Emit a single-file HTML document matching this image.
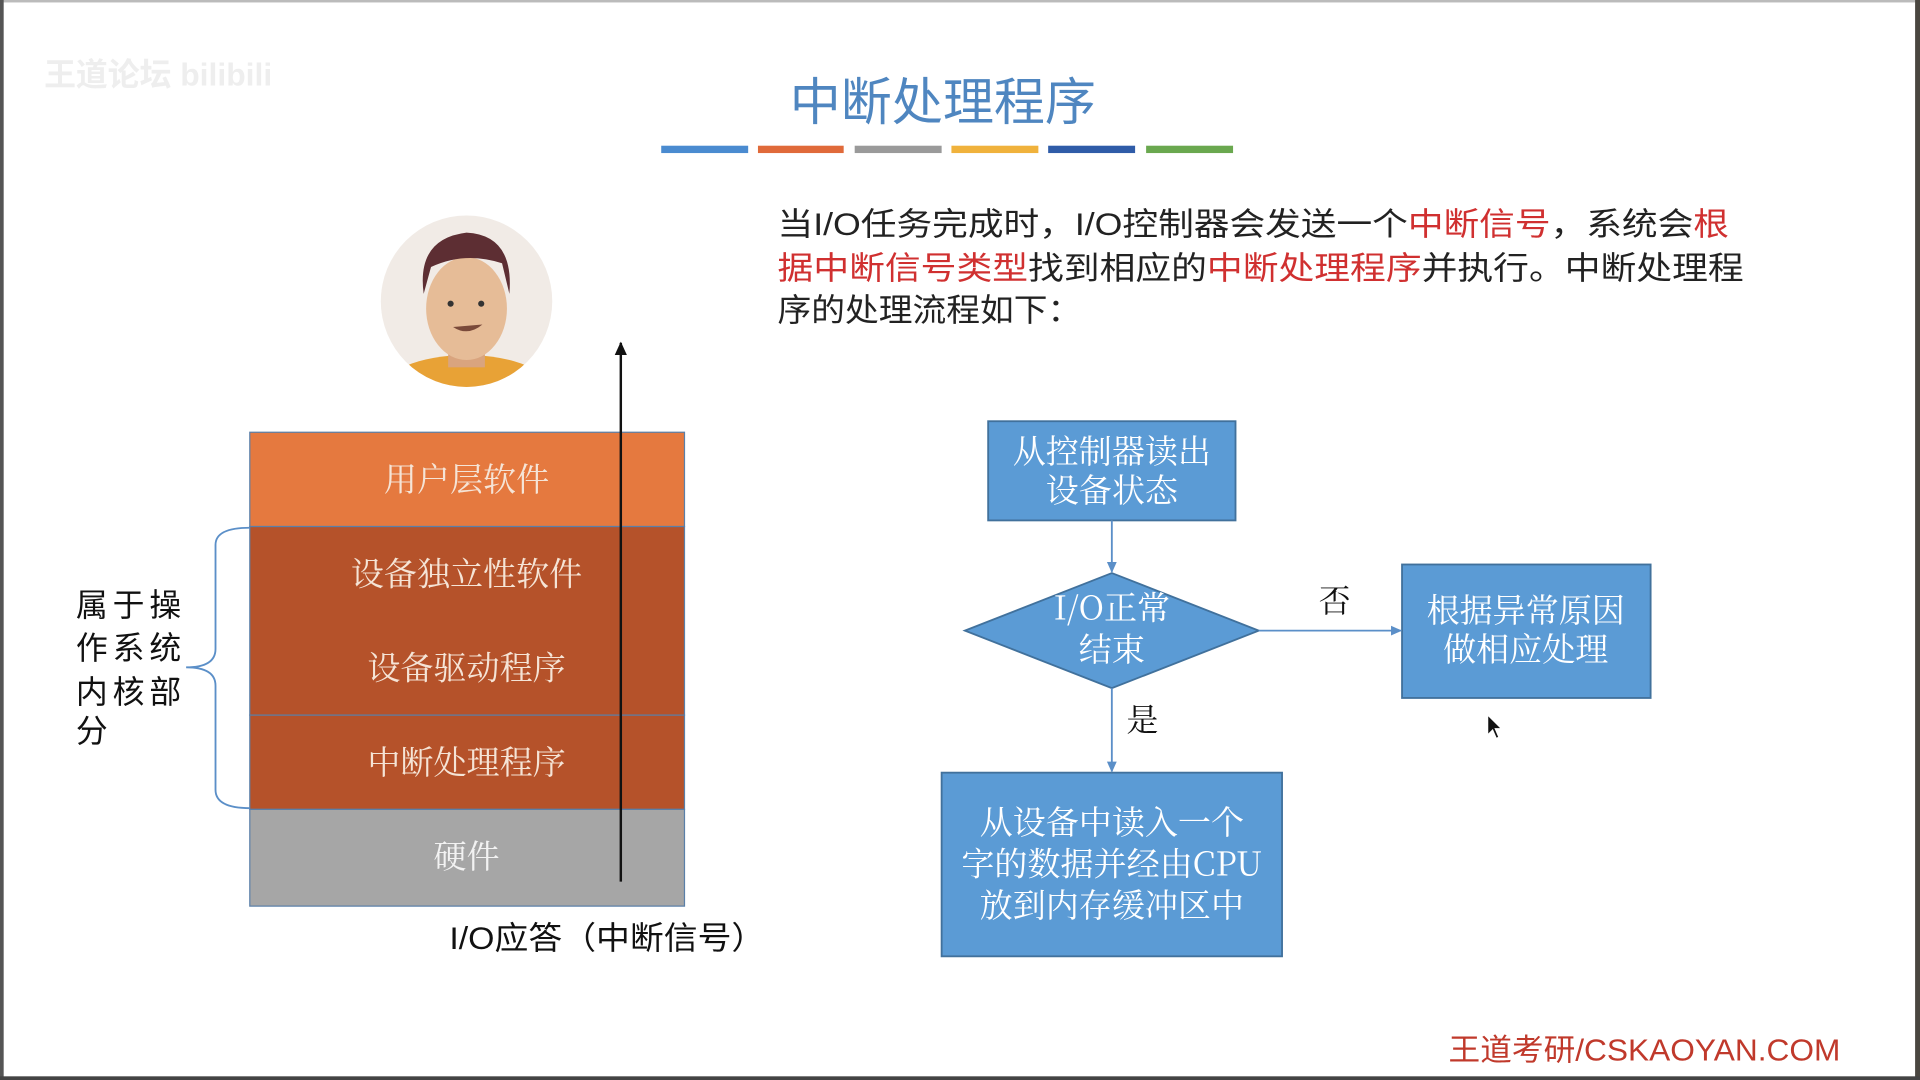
<!DOCTYPE html>
<html><head><meta charset="utf-8"><style>
html,body{margin:0;padding:0;width:1920px;height:1080px;overflow:hidden;background:#fff}
svg{display:block}
text{font-family:"Liberation Sans","Noto Sans CJK SC",sans-serif}
.s text,text.s{font-family:"Noto Serif CJK SC","WenQuanYi Zen Hei","Liberation Serif",serif}
</style></head><body>
<svg width="1920" height="1080" viewBox="0 0 1568 882" preserveAspectRatio="none" xmlns="http://www.w3.org/2000/svg">
<defs><marker id="a" markerWidth="10" markerHeight="10" refX="8" refY="5" orient="auto" markerUnits="userSpaceOnUse"><path d="M0,1 L9,5 L0,9 z" fill="#5b8fc8"/></marker>
<marker id="b" markerWidth="12" markerHeight="12" refX="10" refY="6" orient="auto" markerUnits="userSpaceOnUse"><path d="M0,1 L11,6 L0,11 z" fill="#111"/></marker>
<clipPath id="c"><circle cx="381" cy="246" r="70"/></clipPath></defs>
<rect width="1568" height="882" fill="#fff"/>
<rect x="0" y="0" width="1568" height="2" fill="#bbb"/>
<rect x="0" y="0" width="3" height="882" fill="#555"/>
<rect x="1564" y="0" width="4" height="882" fill="#4a4640"/>
<rect x="0" y="879" width="1568" height="3" fill="#444"/>
<text x="36" y="70" font-size="26" fill="#eee" font-weight="bold">王道论坛 bilibili</text>
<text x="645" y="98" font-size="42" fill="#4f86c0" textLength="250" lengthAdjust="spacingAndGlyphs">中断处理程序</text>
<rect x="540" y="119" width="71" height="6" fill="#4a8bd0"/>
<rect x="619" y="119" width="70" height="6" fill="#e06a3a"/>
<rect x="698" y="119" width="71" height="6" fill="#9a9a9a"/>
<rect x="777" y="119" width="71" height="6" fill="#f0b23c"/>
<rect x="856" y="119" width="71" height="6" fill="#2f5ca8"/>
<rect x="936" y="119" width="71" height="6" fill="#6aa84f"/>
<g font-size="26" fill="#222">
<text x="635" y="192" textLength="777" lengthAdjust="spacingAndGlyphs">当I/O任务完成时，I/O控制器会发送一个<tspan fill="#d03030">中断信号</tspan>，系统会<tspan fill="#d03030">根</tspan></text>
<text x="635" y="228" textLength="789" lengthAdjust="spacingAndGlyphs"><tspan fill="#d03030">据中断信号类型</tspan>找到相应的<tspan fill="#d03030">中断处理程序</tspan>并执行。中断处理程</text>
<text x="635" y="262" textLength="248" lengthAdjust="spacingAndGlyphs">序的处理流程如下：</text>
</g>
<circle cx="381" cy="246" r="70" fill="#f1ebe6"/>
<g clip-path="url(#c)">
<ellipse cx="381" cy="320" rx="70" ry="30" fill="#e8a236"/>
<rect x="366" y="270" width="30" height="30" fill="#d9a47e"/>
<ellipse cx="381" cy="252" rx="33" ry="42" fill="#e6bc97"/>
<path d="M346,240 Q340,195 381,190 Q420,192 416,240 L410,215 Q380,205 352,218 Z" fill="#5d2e33"/>
<circle cx="368" cy="248" r="2.5" fill="#333"/><circle cx="393" cy="248" r="2.5" fill="#333"/>
<path d="M370,267 Q382,275 394,265 Z" fill="#7a4a3a"/>
</g>
<rect x="204" y="353" width="355" height="77" fill="#e5793f" stroke="#5a7fa8"/>
<rect x="204" y="430" width="355" height="154" fill="#b5522a" stroke="#5a7fa8"/>
<rect x="204" y="584" width="355" height="77" fill="#b5522a" stroke="#5a7fa8"/>
<rect x="204" y="661" width="355" height="79" fill="#a6a6a6" stroke="#5a7fa8"/>
<g class="s" font-size="27" fill="#f5e4d6" text-anchor="middle">
<text x="381" y="401">用户层软件</text><text x="381" y="478">设备独立性软件</text>
<text x="381" y="555">设备驱动程序</text><text x="381" y="632">中断处理程序</text>
<text x="381" y="709" fill="#f2f2f2">硬件</text></g>
<line x1="507" y1="720" x2="507" y2="280" stroke="#111" stroke-width="2" marker-end="url(#b)"/>
<path d="M204,431 Q176,431 176,445 L176,530 Q176,545 152,545 Q176,545 176,560 L176,645 Q176,660 204,660" fill="none" stroke="#5b8fc8" stroke-width="1.5"/>
<g font-size="26" fill="#111"><text x="62" y="503" textLength="86">属于操</text><text x="62" y="538" textLength="86">作系统</text><text x="62" y="574" textLength="86">内核部</text><text x="62" y="606">分</text>
<text x="367" y="775" textLength="258" lengthAdjust="spacingAndGlyphs">I/O应答（中断信号）</text></g>
<g stroke="#41719c" stroke-width="1.5" fill="#5b9bd5">
<rect x="807" y="344" width="202" height="81"/>
<polygon points="788,515 908,468 1028,515 908,562"/>
<rect x="1145" y="461" width="203" height="109"/>
<rect x="769" y="631" width="278" height="150"/></g>
<g stroke="#5b8fc8" stroke-width="1.5">
<line x1="908" y1="425" x2="908" y2="467" marker-end="url(#a)"/>
<line x1="1028" y1="515" x2="1144" y2="515" marker-end="url(#a)"/>
<line x1="908" y1="562" x2="908" y2="630" marker-end="url(#a)"/></g>
<g class="s" font-size="27" fill="#fff" text-anchor="middle">
<text x="908" y="378">从控制器读出</text><text x="908" y="410">设备状态</text>
<text x="908" y="506">I/O正常</text><text x="908" y="540">结束</text>
<text x="1246" y="508">根据异常原因</text><text x="1246" y="540">做相应处理</text>
<text x="908" y="681">从设备中读入一个</text><text x="908" y="715">字的数据并经由CPU</text><text x="908" y="749">放到内存缓冲区中</text></g>
<g class="s" font-size="26" fill="#111"><text x="1077" y="500">否</text><text x="920" y="597">是</text></g>
<path d="M1215,584 L1215,600 L1219,596 L1222,603 L1224,602 L1221,595 L1226,595 Z" fill="#111" stroke="#fff" stroke-width="0.8"/>
<text x="1183" y="866" font-size="25" fill="#c0392b" textLength="320" lengthAdjust="spacingAndGlyphs">王道考研/CSKAOYAN.COM</text>
</svg>
</body></html>
